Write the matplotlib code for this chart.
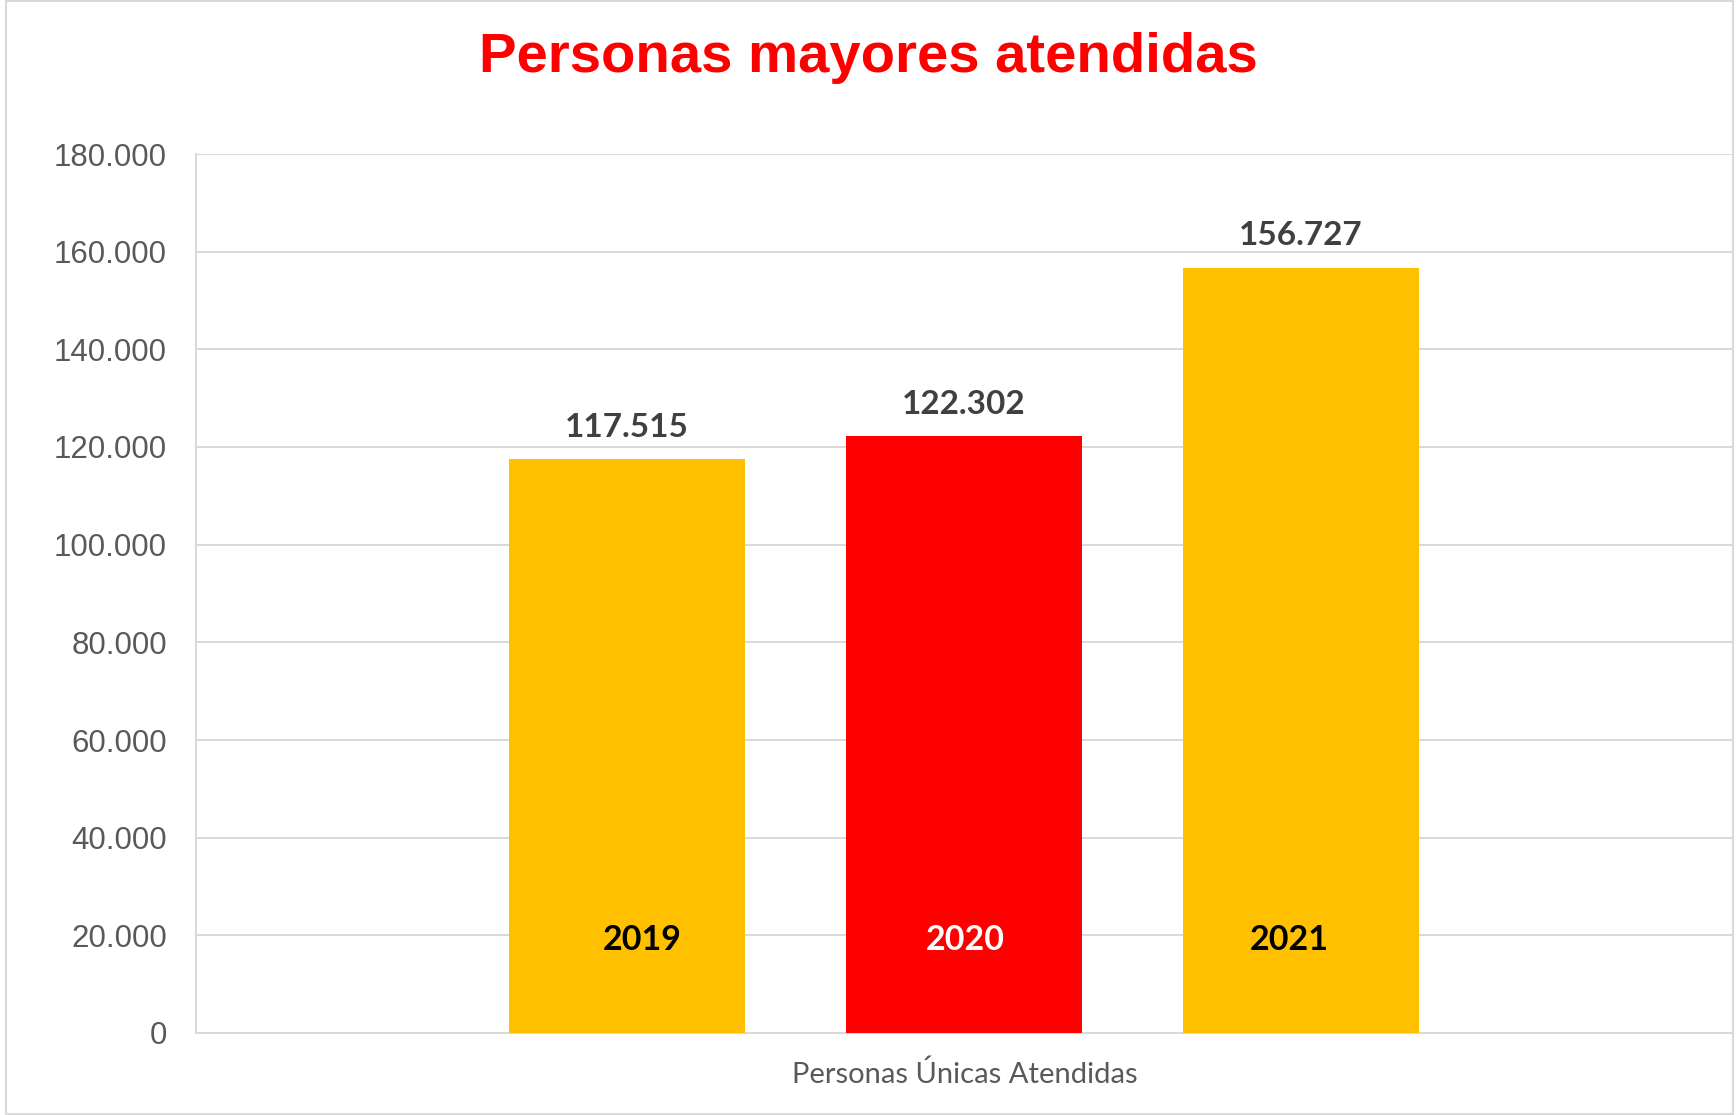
import matplotlib
matplotlib.use("Agg")
import matplotlib.pyplot as plt
from matplotlib.patches import Rectangle
from matplotlib.ticker import FuncFormatter, MultipleLocator

years = ["2019", "2020", "2021"]
values = [117515, 122302, 156727]
bar_colors = ["#FFC000", "#FF0000", "#FFC000"]
year_text_colors = ["#000000", "#FFFFFF", "#000000"]
title = "Personas mayores atendidas"
category = "Personas Únicas Atendidas"

# the year labels are not quite centred in the original
year_dx = [11, 1, -8]


def miles(v, pos):
    return f"{int(v):,}".replace(",", ".")


W, H = 1736, 1115
fig = plt.figure(figsize=(W / 100, H / 100), dpi=100)
ax = fig.add_axes([196 / W, 1 - 1033 / H, 1536 / W, 879 / H])

xs = list(range(len(years)))
ax.bar(xs, values, width=0.70, color=bar_colors, zorder=3)

ax.set_ylim(0, 180000)
ax.set_xlim(-1.28, 3.28)
ax.yaxis.set_major_locator(MultipleLocator(20000))
ax.yaxis.set_major_formatter(FuncFormatter(miles))
ax.grid(axis="y", color="#D9D9D9", linewidth=1.4, zorder=0)
ax.set_xticks([])
ax.tick_params(axis="y", length=0, pad=21, labelsize=22.5, labelcolor="#595959")
for lab in ax.get_yticklabels():
    lab.set_family("Liberation Sans")

for side in ["top", "right"]:
    ax.spines[side].set_visible(False)
for side in ["left", "bottom"]:
    ax.spines[side].set_color("#D9D9D9")
    ax.spines[side].set_linewidth(1.4)

for x, v, yr, tc, dx in zip(xs, values, years, year_text_colors, year_dx):
    ax.annotate(miles(v, None), (x, v), xytext=(0, 16), textcoords="offset points",
                ha="center", va="baseline", fontsize=24, fontweight="bold",
                color="#404040", family="Lato")
    ax.annotate(yr, (x, 0), xytext=(dx, 60), textcoords="offset points",
                ha="center", va="baseline", fontsize=24.5, fontweight="bold",
                color=tc, family="Lato")

fig.text(0.5, 1 - 72 / H, title, ha="center", va="baseline", fontsize=40.5,
         fontweight="bold", color="#FF0000", family="Liberation Sans")
fig.text(965 / W, 1 - 1083 / H, category, ha="center", va="baseline",
         fontsize=21, color="#595959", family="Lato")

fig.patches.append(Rectangle((6 / W, 1 - 1114 / H), 1727 / W, 1113 / H,
                             transform=fig.transFigure, fill=False,
                             edgecolor="#D9D9D9", linewidth=1.5))

fig.savefig("out.png", dpi=100)
